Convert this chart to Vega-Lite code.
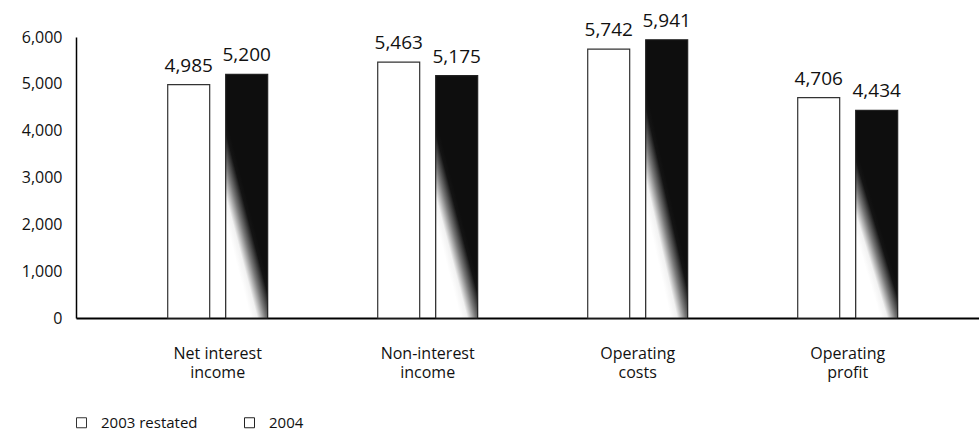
{
  "$schema": "https://vega.github.io/schema/vega-lite/v6.json",
  "autosize": {"type": "none"},
  "padding": {"left": 76, "top": 37, "right": 0, "bottom": 113},
  "width": 903,
  "height": 281,
  "config": {
    "view": {"stroke": null},
    "font": "Open Sans",
    "axis": {"labelFont": "Open Sans", "labelColor": "#111"},
    "legend": {"labelFont": "Open Sans"}
  },
  "data": {
    "values": [
      {"category": "Net interest income", "series": "2003 restated", "value": 4985},
      {"category": "Net interest income", "series": "2004", "value": 5200},
      {"category": "Non-interest income", "series": "2003 restated", "value": 5463},
      {"category": "Non-interest income", "series": "2004", "value": 5175},
      {"category": "Operating costs", "series": "2003 restated", "value": 5742},
      {"category": "Operating costs", "series": "2004", "value": 5941},
      {"category": "Operating profit", "series": "2003 restated", "value": 4706},
      {"category": "Operating profit", "series": "2004", "value": 4434}
    ]
  },
  "encoding": {
    "x": {
      "field": "category",
      "type": "nominal",
      "sort": null,
      "scale": {"paddingInner": 0.524, "paddingOuter": 0.412, "align": 0.53},
      "axis": {
        "title": null,
        "ticks": false,
        "domain": true,
        "domainColor": "#000",
        "domainWidth": 2,
        "labelAngle": 0,
        "labelPadding": 27,
        "labelFontSize": 16,
        "labelLineHeight": 19,
        "labelExpr": "[slice(datum.label, 0, lastindexof(datum.label, ' ')), slice(datum.label, lastindexof(datum.label, ' ') + 1)]"
      }
    },
    "xOffset": {
      "field": "series",
      "type": "nominal",
      "sort": ["2003 restated", "2004"],
      "scale": {"paddingInner": 0.276, "paddingOuter": 0}
    },
    "y": {
      "field": "value",
      "type": "quantitative",
      "scale": {"domain": [0, 6000], "nice": false},
      "axis": {
        "title": null,
        "values": [0, 1000, 2000, 3000, 4000, 5000, 6000],
        "format": ",.0f",
        "grid": false,
        "ticks": false,
        "domain": true,
        "domainColor": "#000",
        "domainWidth": 1.5,
        "labelPadding": 14,
        "labelFontSize": 16
      }
    }
  },
  "layer": [
    {
      "transform": [{"filter": "datum.series == '2003 restated'"}],
      "mark": {"type": "bar", "fill": "white", "strokeWidth": 1.2},
      "encoding": {
        "stroke": {
          "field": "series",
          "type": "nominal",
          "scale": {"domain": ["2003 restated", "2004"], "range": ["#333333", "#222222"]},
          "legend": {
            "title": null,
            "orient": "none",
            "legendX": -2,
            "legendY": 378,
            "direction": "horizontal",
            "symbolType": "square",
            "symbolSize": 100,
            "symbolFillColor": "white",
            "symbolStrokeWidth": 1,
            "labelFontSize": 15,
            "labelOffset": 12,
            "labelColor": "#111",
            "columnPadding": 44,
            "padding": 0
          }
        }
      }
    },
    {
      "transform": [{"filter": "datum.series == '2004'"}],
      "mark": {
        "type": "bar",
        "strokeWidth": 1.2,
        "fill": {
          "gradient": "linear",
          "x1": 0.4, "y1": 0.87, "x2": 0.6, "y2": 0.57,
          "stops": [
            {"offset": 0, "color": "#ffffff"},
            {"offset": 0.25, "color": "#f2f2f2"},
            {"offset": 0.55, "color": "#7a7a7a"},
            {"offset": 0.85, "color": "#141414"},
            {"offset": 1, "color": "#0e0e0e"}
          ]
        }
      },
      "encoding": {
        "stroke": {"field": "series", "type": "nominal"}
      }
    },
    {
      "mark": {"type": "text", "baseline": "bottom", "dy": -9, "fontSize": 19, "color": "#111"},
      "encoding": {
        "text": {"field": "value", "type": "quantitative", "format": ","}
      }
    }
  ]
}
